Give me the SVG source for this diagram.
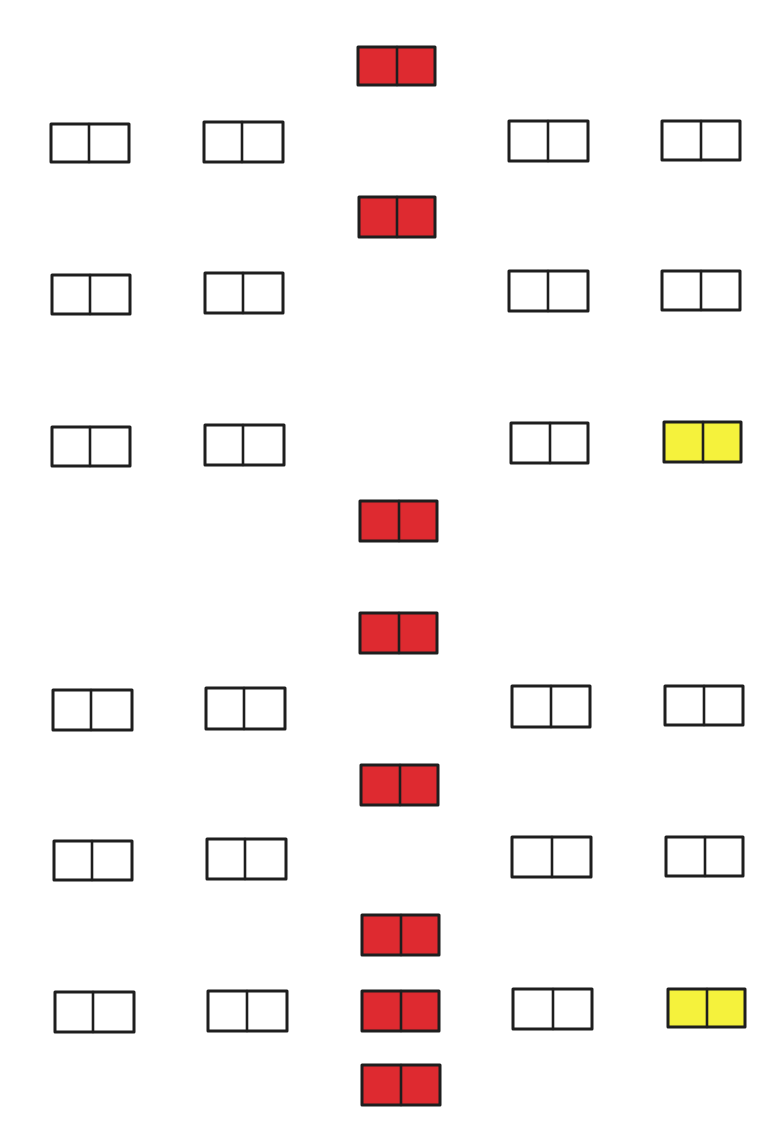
<svg xmlns="http://www.w3.org/2000/svg" width="758" height="1129" viewBox="0 0 758 1129">
<style>
.b rect{stroke:#1e1e1e;stroke-width:3;stroke-linejoin:round}
.b line{stroke:#1e1e1e;stroke-width:2.6;stroke-linecap:round}
.w rect{fill:#ffffff}
.r rect{fill:#de2a30}
.y rect{fill:#f5f23c}
</style>
<rect width="758" height="1129" fill="#ffffff"/>
<g id="nodes">
<g id="red1" class="b r"><rect x="358" y="47" width="77" height="38"/><line x1="397" y1="47" x2="397" y2="85"/></g>
<g id="r1c1" class="b w"><rect x="51" y="124" width="78" height="38"/><line x1="89" y1="124" x2="89" y2="162"/></g>
<g id="r1c2" class="b w"><rect x="204" y="122" width="79" height="40"/><line x1="242" y1="122" x2="242" y2="162"/></g>
<g id="r1c4" class="b w"><rect x="509" y="121" width="79" height="40"/><line x1="548" y1="121" x2="548" y2="161"/></g>
<g id="r1c5" class="b w"><rect x="662" y="121" width="78" height="39"/><line x1="701" y1="121" x2="701" y2="160"/></g>
<g id="red2" class="b r"><rect x="359" y="197" width="76" height="40"/><line x1="397" y1="197" x2="397" y2="237"/></g>
<g id="r2c1" class="b w"><rect x="52" y="275" width="78" height="39"/><line x1="90" y1="275" x2="90" y2="314"/></g>
<g id="r2c2" class="b w"><rect x="205" y="273" width="78" height="40"/><line x1="243" y1="273" x2="243" y2="313"/></g>
<g id="r2c4" class="b w"><rect x="509" y="271" width="79" height="40"/><line x1="548" y1="271" x2="548" y2="311"/></g>
<g id="r2c5" class="b w"><rect x="662" y="271" width="78" height="39"/><line x1="701" y1="271" x2="701" y2="310"/></g>
<g id="r3c1" class="b w"><rect x="52" y="427" width="78" height="39"/><line x1="90" y1="427" x2="90" y2="466"/></g>
<g id="r3c2" class="b w"><rect x="205" y="425" width="79" height="40"/><line x1="243" y1="425" x2="243" y2="465"/></g>
<g id="r3c4" class="b w"><rect x="511" y="423" width="77" height="40"/><line x1="550" y1="423" x2="550" y2="463"/></g>
<g id="yellow1" class="b y"><rect x="664" y="422" width="77" height="40"/><line x1="703" y1="422" x2="703" y2="462"/></g>
<g id="red3" class="b r"><rect x="360" y="501" width="77" height="40"/><line x1="399" y1="501" x2="399" y2="541"/></g>
<g id="red4" class="b r"><rect x="360" y="613" width="77" height="40"/><line x1="399" y1="613" x2="399" y2="653"/></g>
<g id="r4c1" class="b w"><rect x="53" y="690" width="79" height="40"/><line x1="91" y1="690" x2="91" y2="730"/></g>
<g id="r4c2" class="b w"><rect x="206" y="688" width="79" height="41"/><line x1="244" y1="688" x2="244" y2="729"/></g>
<g id="r4c4" class="b w"><rect x="512" y="686" width="78" height="41"/><line x1="551" y1="686" x2="551" y2="727"/></g>
<g id="r4c5" class="b w"><rect x="665" y="686" width="78" height="39"/><line x1="704" y1="686" x2="704" y2="725"/></g>
<g id="red5" class="b r"><rect x="361" y="765" width="77" height="40"/><line x1="400" y1="765" x2="400" y2="805"/></g>
<g id="r5c1" class="b w"><rect x="54" y="841" width="78" height="39"/><line x1="92" y1="841" x2="92" y2="880"/></g>
<g id="r5c2" class="b w"><rect x="207" y="839" width="79" height="40"/><line x1="245" y1="839" x2="245" y2="879"/></g>
<g id="r5c4" class="b w"><rect x="512" y="837" width="79" height="40"/><line x1="552" y1="837" x2="552" y2="877"/></g>
<g id="r5c5" class="b w"><rect x="666" y="837" width="77" height="39"/><line x1="705" y1="837" x2="705" y2="876"/></g>
<g id="red6" class="b r"><rect x="362" y="915" width="77" height="40"/><line x1="401" y1="915" x2="401" y2="955"/></g>
<g id="r6c1" class="b w"><rect x="55" y="992" width="79" height="40"/><line x1="93" y1="992" x2="93" y2="1032"/></g>
<g id="r6c2" class="b w"><rect x="208" y="991" width="79" height="40"/><line x1="247" y1="991" x2="247" y2="1031"/></g>
<g id="red7" class="b r"><rect x="362" y="991" width="77" height="40"/><line x1="401" y1="991" x2="401" y2="1031"/></g>
<g id="r6c4" class="b w"><rect x="513" y="989" width="79" height="40"/><line x1="553" y1="989" x2="553" y2="1029"/></g>
<g id="yellow2" class="b y"><rect x="668" y="989" width="77" height="38"/><line x1="707" y1="989" x2="707" y2="1027"/></g>
<g id="red8" class="b r"><rect x="362" y="1065" width="78" height="40"/><line x1="401" y1="1065" x2="401" y2="1105"/></g>
</g>
</svg>
